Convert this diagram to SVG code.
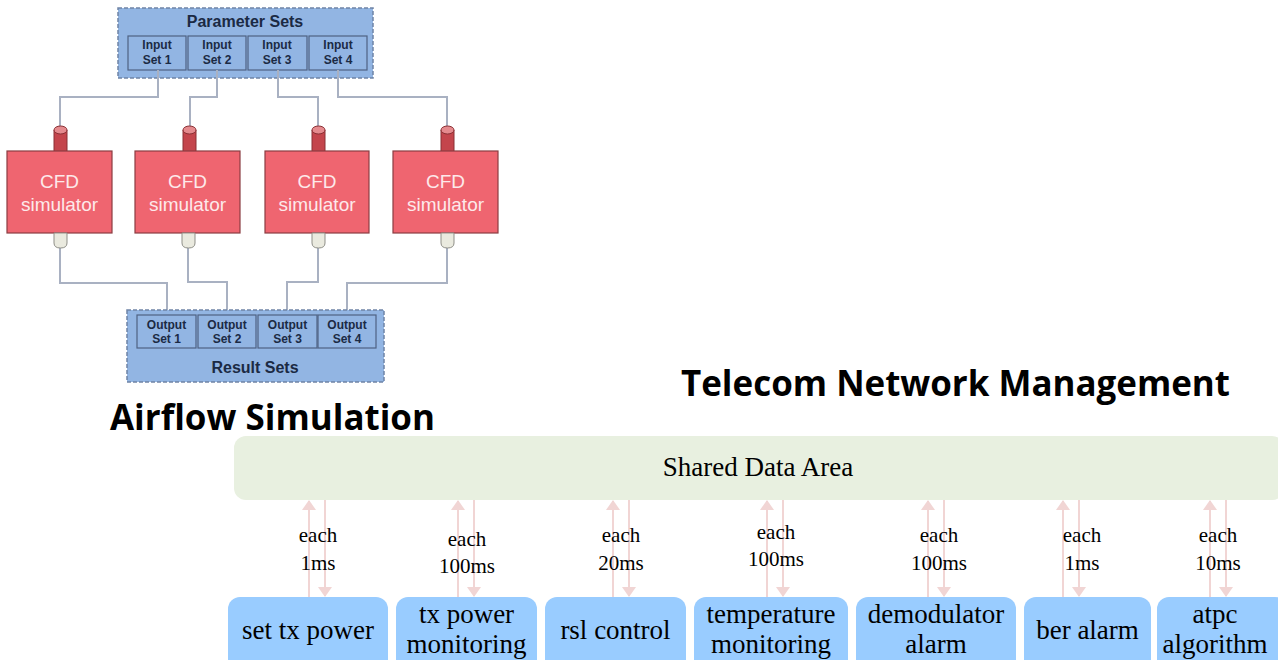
<svg xmlns="http://www.w3.org/2000/svg" width="1278" height="660" viewBox="0 0 1278 660">
  <style>
    .set-outer { fill: #92b5e3; stroke: #6f84a6; stroke-width: 1.5; stroke-dasharray: 4 2; }
    .set-inner { fill: #92b5e3; stroke: #4f6282; stroke-width: 1.2; }
    .set-txt { font-family: "Liberation Sans", Arial, sans-serif; font-weight: bold; font-size: 12px; fill: #1b2a44; text-anchor: middle; }
    .set-title { font-family: "Liberation Sans", Arial, sans-serif; font-weight: bold; font-size: 16px; fill: #1b2a44; text-anchor: middle; }
    .wire { fill: none; stroke: #a9b1c2; stroke-width: 2; }
    .cfd { fill: #ef6570; stroke: #8a3d42; stroke-width: 1.2; }
    .cfd-txt { font-family: "Liberation Sans", Arial, sans-serif; font-size: 19px; fill: #fde9ea; text-anchor: middle; }
    .pin-in { fill: #c4454c; stroke: #8a3034; stroke-width: 1; }
    .pin-in-top { fill: #e58a8e; stroke: #8a3034; stroke-width: 1; }
    .pin-out { fill: #eaeadf; stroke: #8f8f88; stroke-width: 1; }
    .title { font-family: "Open Sans", "Noto Sans", sans-serif; font-weight: bold; font-size: 36px; fill: #000; }
    .shared { fill: #e8f0e0; }
    .task { fill: #99ccff; }
    .serif { font-family: "Liberation Serif", "Times New Roman", serif; fill: #000; text-anchor: middle; }
    .task-txt { font-size: 27px; }
    .rate { font-size: 21px; }
    .link { stroke: #f1d5d4; stroke-width: 2; fill: none; }
  </style>
  <defs>
    <marker id="head" viewBox="0 0 10 14" refX="9" refY="7" markerWidth="10" markerHeight="14" markerUnits="userSpaceOnUse" orient="auto">
      <path d="M0,0 L10,7 L0,14 z" fill="#f1d5d4"/>
    </marker>
  </defs>

  <rect width="1278" height="660" fill="#ffffff"/>

  <!-- Airflow simulation: parameter sets feeding four CFD simulators -->
  <g id="parameter-sets">
    <rect class="set-outer" x="118" y="8" width="255" height="70"/>
    <text class="set-title" x="245" y="27">Parameter Sets</text>
    <rect class="set-inner" x="128" y="36" width="58" height="34"/>
    <rect class="set-inner" x="188" y="36" width="58" height="34"/>
    <rect class="set-inner" x="248" y="36" width="59" height="34"/>
    <rect class="set-inner" x="309" y="36" width="58" height="34"/>
    <text class="set-txt" x="157" y="49">Input</text><text class="set-txt" x="157" y="64">Set 1</text>
    <text class="set-txt" x="217" y="49">Input</text><text class="set-txt" x="217" y="64">Set 2</text>
    <text class="set-txt" x="277" y="49">Input</text><text class="set-txt" x="277" y="64">Set 3</text>
    <text class="set-txt" x="338" y="49">Input</text><text class="set-txt" x="338" y="64">Set 4</text>
  </g>

  <g id="airflow-wires">
    <path class="wire" d="M158,70 V97 H60 V127"/>
    <path class="wire" d="M217,70 V97 H190 V127"/>
    <path class="wire" d="M278,70 V97 H318 V127"/>
    <path class="wire" d="M338,70 V97 H447 V127"/>
    <path class="wire" d="M60,248 V283 H167 V310"/>
    <path class="wire" d="M188,248 V282 H227 V310"/>
    <path class="wire" d="M318,248 V282 H287 V310"/>
    <path class="wire" d="M447,248 V283 H347 V310"/>
  </g>

  <g id="cfd-1">
    <path class="pin-in" d="M54,130 V152 H67 V130"/>
    <ellipse class="pin-in-top" cx="60.5" cy="130" rx="6.5" ry="4"/>
    <rect class="cfd" x="7" y="151" width="105" height="82"/>
    <text class="cfd-txt" x="59.5" y="188">CFD</text>
    <text class="cfd-txt" x="59.5" y="211">simulator</text>
    <path class="pin-out" d="M54,233 V243 Q54,248 60.5,248 Q67,248 67,243 V233 z"/>
  </g>
  <g id="cfd-2">
    <path class="pin-in" d="M183,130 V152 H196 V130"/>
    <ellipse class="pin-in-top" cx="189.5" cy="130" rx="6.5" ry="4"/>
    <rect class="cfd" x="135" y="151" width="105" height="82"/>
    <text class="cfd-txt" x="187.5" y="188">CFD</text>
    <text class="cfd-txt" x="187.5" y="211">simulator</text>
    <path class="pin-out" d="M182,233 V243 Q182,248 188.5,248 Q195,248 195,243 V233 z"/>
  </g>
  <g id="cfd-3">
    <path class="pin-in" d="M312,130 V152 H325 V130"/>
    <ellipse class="pin-in-top" cx="318.5" cy="130" rx="6.5" ry="4"/>
    <rect class="cfd" x="265" y="151" width="104" height="82"/>
    <text class="cfd-txt" x="317" y="188">CFD</text>
    <text class="cfd-txt" x="317" y="211">simulator</text>
    <path class="pin-out" d="M312,233 V243 Q312,248 318.5,248 Q325,248 325,243 V233 z"/>
  </g>
  <g id="cfd-4">
    <path class="pin-in" d="M441,130 V152 H454 V130"/>
    <ellipse class="pin-in-top" cx="447.5" cy="130" rx="6.5" ry="4"/>
    <rect class="cfd" x="393" y="151" width="105" height="82"/>
    <text class="cfd-txt" x="445.5" y="188">CFD</text>
    <text class="cfd-txt" x="445.5" y="211">simulator</text>
    <path class="pin-out" d="M441,233 V243 Q441,248 447.5,248 Q454,248 454,243 V233 z"/>
  </g>

  <g id="result-sets">
    <rect class="set-outer" x="127" y="310" width="257" height="72"/>
    <rect class="set-inner" x="137" y="315" width="59" height="33"/>
    <rect class="set-inner" x="198" y="315" width="58" height="33"/>
    <rect class="set-inner" x="258" y="315" width="59" height="33"/>
    <rect class="set-inner" x="318" y="315" width="58" height="33"/>
    <text class="set-txt" x="166.5" y="329">Output</text><text class="set-txt" x="166.5" y="343">Set 1</text>
    <text class="set-txt" x="227" y="329">Output</text><text class="set-txt" x="227" y="343">Set 2</text>
    <text class="set-txt" x="287.5" y="329">Output</text><text class="set-txt" x="287.5" y="343">Set 3</text>
    <text class="set-txt" x="347" y="329">Output</text><text class="set-txt" x="347" y="343">Set 4</text>
    <text class="set-title" x="255" y="373">Result Sets</text>
  </g>

  <text id="airflow-title" class="title" x="110" y="430" textLength="325" lengthAdjust="spacingAndGlyphs">Airflow Simulation</text>
  <text id="telecom-title" class="title" x="681" y="396" textLength="549" lengthAdjust="spacingAndGlyphs">Telecom Network Management</text>

  <!-- Telecom network management: tasks polling a shared data area -->
  <g id="shared-data-area">
    <rect class="shared" x="234" y="436" width="1050" height="64" rx="12"/>
    <text class="serif" x="758" y="476" font-size="27">Shared Data Area</text>
  </g>

  <g id="telecom-links">
    <line class="link" x1="309" y1="597" x2="309" y2="501" marker-end="url(#head)"/>
    <line class="link" x1="325" y1="500" x2="325" y2="596" marker-end="url(#head)"/>
    <line class="link" x1="458" y1="597" x2="458" y2="501" marker-end="url(#head)"/>
    <line class="link" x1="474" y1="500" x2="474" y2="596" marker-end="url(#head)"/>
    <line class="link" x1="613" y1="597" x2="613" y2="501" marker-end="url(#head)"/>
    <line class="link" x1="629" y1="500" x2="629" y2="596" marker-end="url(#head)"/>
    <line class="link" x1="767" y1="597" x2="767" y2="501" marker-end="url(#head)"/>
    <line class="link" x1="783" y1="500" x2="783" y2="596" marker-end="url(#head)"/>
    <line class="link" x1="928" y1="597" x2="928" y2="501" marker-end="url(#head)"/>
    <line class="link" x1="944" y1="500" x2="944" y2="596" marker-end="url(#head)"/>
    <line class="link" x1="1063" y1="597" x2="1063" y2="501" marker-end="url(#head)"/>
    <line class="link" x1="1079" y1="500" x2="1079" y2="596" marker-end="url(#head)"/>
    <line class="link" x1="1210" y1="597" x2="1210" y2="501" marker-end="url(#head)"/>
    <line class="link" x1="1226" y1="500" x2="1226" y2="596" marker-end="url(#head)"/>

    <text class="serif rate" x="318" y="542">each</text><text class="serif rate" x="318" y="570">1ms</text>
    <text class="serif rate" x="467" y="546">each</text><text class="serif rate" x="467" y="573">100ms</text>
    <text class="serif rate" x="621" y="542">each</text><text class="serif rate" x="621" y="570">20ms</text>
    <text class="serif rate" x="776" y="539">each</text><text class="serif rate" x="776" y="566">100ms</text>
    <text class="serif rate" x="939" y="542">each</text><text class="serif rate" x="939" y="570">100ms</text>
    <text class="serif rate" x="1082" y="542">each</text><text class="serif rate" x="1082" y="570">1ms</text>
    <text class="serif rate" x="1218" y="542">each</text><text class="serif rate" x="1218" y="570">10ms</text>
  </g>

  <g id="task-set-tx-power">
    <rect class="task" x="228" y="597" width="160" height="80" rx="12"/>
    <text class="serif task-txt" x="308" y="639">set tx power</text>
  </g>
  <g id="task-tx-power-monitoring">
    <rect class="task" x="396" y="597" width="141" height="80" rx="12"/>
    <text class="serif task-txt" x="466.5" y="623">tx power</text>
    <text class="serif task-txt" x="466.5" y="653">monitoring</text>
  </g>
  <g id="task-rsl-control">
    <rect class="task" x="545" y="597" width="141" height="80" rx="12"/>
    <text class="serif task-txt" x="615.5" y="639">rsl control</text>
  </g>
  <g id="task-temperature-monitoring">
    <rect class="task" x="694" y="597" width="154" height="80" rx="12"/>
    <text class="serif task-txt" x="771" y="623">temperature</text>
    <text class="serif task-txt" x="771" y="653">monitoring</text>
  </g>
  <g id="task-demodulator-alarm">
    <rect class="task" x="856" y="597" width="160" height="80" rx="12"/>
    <text class="serif task-txt" x="936" y="623">demodulator</text>
    <text class="serif task-txt" x="936" y="653">alarm</text>
  </g>
  <g id="task-ber-alarm">
    <rect class="task" x="1024" y="597" width="127" height="80" rx="12"/>
    <text class="serif task-txt" x="1087.5" y="639">ber alarm</text>
  </g>
  <g id="task-atpc-algorithm">
    <rect class="task" x="1157" y="597" width="130" height="80" rx="12"/>
    <text class="serif task-txt" x="1215" y="623">atpc</text>
    <text class="serif task-txt" x="1215" y="653">algorithm</text>
  </g>
</svg>
